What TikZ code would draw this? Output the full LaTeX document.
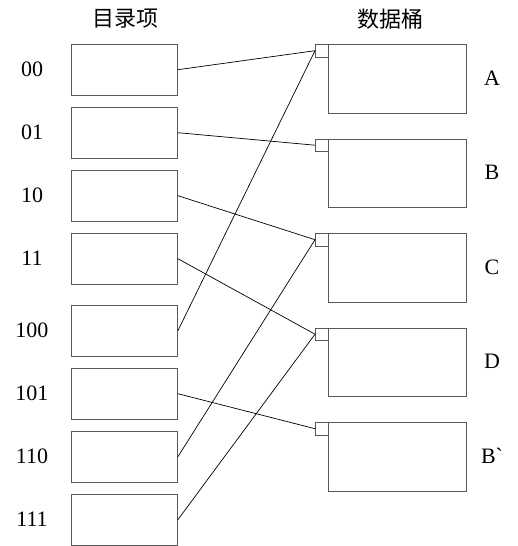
\documentclass[tikz,border=0pt]{standalone}
\usepackage{fontspec}
\setmainfont{Liberation Serif}[Ligatures=TeXOff]
\newfontfamily\cjk{Noto Sans CJK SC}
\begin{document}
\begin{tikzpicture}[x=1pt,y=-1pt,
  dirbox/.style={draw=black!65,line width=0.9pt,minimum width=106.5pt,minimum height=50.5pt,inner sep=0pt,anchor=north west},
  bucket/.style={draw=black!65,line width=0.9pt,minimum width=137.5pt,minimum height=68.5pt,inner sep=0pt,anchor=north west},
  ptr/.style={draw=black!65,line width=0.9pt,minimum width=13pt,minimum height=12.5pt,inner sep=0pt,anchor=north west},
  lab/.style={font=\fontsize{22}{22}\selectfont},
  conn/.style={line width=0.7pt}]
\useasboundingbox (0,0) rectangle (517,546);
\node[font=\cjk\fontsize{22}{22}\selectfont] (h1) at (125,19) {目录项};
\node[font=\cjk\fontsize{22}{22}\selectfont] (h2) at (390,19) {数据桶};
% directory
\foreach \n/\t/\l in {d0/44/00,d1/107/01,d2/170/10,d3/233/11,d4/305/100,d5/368/101,d6/431/110,d7/494/111}{
  \node[dirbox] (\n) at (70.5,\t) {};
  \node[lab] (\n l) at (32,\t+25.5) {\l};
}
% buckets
\foreach \n/\t/\l in {A/44/A,B/138.5/B,C/233/C,D/327.5/D,E/422/B\symbol{96}}{
  \node[bucket] (\n) at (328,\t) {};
  \node[ptr] (\n p) at (315,\t) {};
  \node[lab] (\n l) at (492,\t+34) {\l};
}
\draw[conn] (d0.east) -- (Ap.west);
\draw[conn] (d1.east) -- (Bp.west);
\draw[conn] (d2.east) -- (Cp.west);
\draw[conn] (d3.east) -- (Dp.west);
\draw[conn] (d4.east) -- (Ap.west);
\draw[conn] (d5.east) -- (Ep.west);
\draw[conn] (d6.east) -- (Cp.west);
\draw[conn] (d7.east) -- (Dp.west);
\end{tikzpicture}
\end{document}
